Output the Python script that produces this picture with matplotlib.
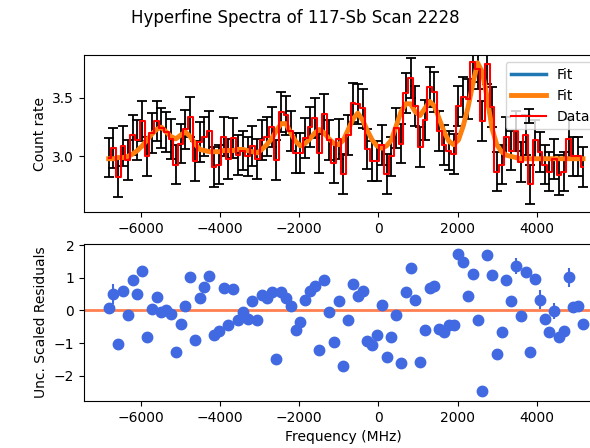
import numpy as np
import matplotlib
matplotlib.use("Agg")
import matplotlib.pyplot as plt

# scan frequencies (MHz)
freq = [-6810, -6689, -6568, -6447, -6326, -6205, -6084, -5963, -5842, -5721,
        -5600, -5479, -5358, -5237, -5116, -4995, -4874, -4753, -4632, -4511,
        -4390, -4269, -4148, -4027, -3906, -3785, -3664, -3543, -3422, -3301,
        -3180, -3059, -2938, -2817, -2696, -2575, -2454, -2333, -2212, -2091,
        -1970, -1849, -1728, -1607, -1486, -1365, -1244, -1123, -1002, -881,
        -760, -639, -518, -397, -276, -155, -34, 87, 208, 329,
        450, 571, 692, 813, 934, 1055, 1176, 1297, 1418, 1539,
        1660, 1781, 1902, 2023, 2144, 2265, 2386, 2507, 2628, 2749,
        2870, 2991, 3112, 3233, 3354, 3475, 3596, 3717, 3838, 3959,
        4080, 4201, 4322, 4443, 4564, 4685, 4806, 4927, 5048, 5169]

# measured count rate
counts = [2.99, 3.07, 2.82, 3.09, 2.97, 3.18, 3.14, 3.30, 3.00, 3.20,
          3.30, 3.24, 3.21, 3.15, 2.93, 3.11, 3.23, 3.34, 2.96, 3.12,
          3.17, 3.22, 2.91, 2.93, 3.17, 2.98, 3.16, 3.01, 3.05, 3.00,
          3.09, 2.98, 3.14, 3.17, 3.25, 2.97, 3.38, 3.35, 3.22, 3.03,
          3.03, 3.16, 3.25, 3.33, 3.03, 3.36, 3.14, 2.94, 3.15, 2.85,
          3.18, 3.46, 3.45, 3.41, 3.06, 2.96, 2.96, 3.10, 2.85, 3.00,
          3.24, 3.11, 3.54, 3.67, 3.43, 3.08, 3.31, 3.59, 3.55, 3.22,
          3.10, 3.05, 3.02, 3.43, 3.51, 3.49, 3.81, 3.75, 3.30, 3.79,
          3.42, 2.87, 2.93, 3.17, 3.05, 3.22, 2.95, 3.18, 2.76, 3.14,
          3.04, 2.93, 2.87, 2.98, 2.84, 2.87, 3.15, 3.00, 3.00, 2.91]

counts_err = [0.17] * 100

# fitted curve
fit = [2.98, 2.98, 2.99, 2.99, 3.00, 3.02, 3.05, 3.09, 3.14, 3.19,
       3.23, 3.25, 3.21, 3.17, 3.15, 3.18, 3.21, 3.17, 3.11, 3.06,
       3.05, 3.04, 3.04, 3.04, 3.05, 3.05, 3.05, 3.06, 3.06, 3.05,
       3.04, 3.03, 3.06, 3.10, 3.15, 3.22, 3.28, 3.28, 3.20, 3.13,
       3.09, 3.11, 3.15, 3.20, 3.23, 3.20, 3.15, 3.11, 3.10, 3.14,
       3.23, 3.32, 3.37, 3.31, 3.22, 3.14, 3.09, 3.07, 3.09, 3.14,
       3.26, 3.38, 3.45, 3.45, 3.38, 3.35, 3.41, 3.47, 3.43, 3.32,
       3.21, 3.13, 3.10, 3.14, 3.26, 3.42, 3.62, 3.80, 3.72, 3.50,
       3.24, 3.10, 3.04, 3.01, 3.00, 2.99, 2.98, 2.98, 2.98, 2.98,
       2.98, 2.98, 2.98, 2.98, 2.98, 2.98, 2.98, 2.98, 2.98, 2.98]

# uncertainty scaled residuals
resid = [0.07, 0.50, -1.03, 0.58, -0.15, 0.94, 0.50, 1.21, -0.83, 0.05,
         0.42, -0.05, 0.00, -0.11, -1.29, -0.42, 0.14, 1.01, -0.91, 0.38,
         0.70, 1.04, -0.74, -0.64, 0.69, -0.44, 0.66, -0.31, -0.05, -0.28,
         0.28, -0.31, 0.48, 0.38, 0.56, -1.49, 0.56, 0.38, 0.14, -0.59,
         -0.36, 0.31, 0.60, 0.76, -1.20, 0.93, -0.06, -0.98, 0.28, -1.71,
         -0.31, 0.82, 0.45, 0.60, -0.93, -1.05, -0.74, 0.15, -1.44, -0.81,
         -0.13, -1.60, 0.55, 1.30, 0.31, -1.58, -0.61, 0.68, 0.73, -0.57,
         -0.66, -0.46, -0.46, 1.72, 1.47, 0.43, 1.12, -0.31, -2.46, 1.68,
         1.08, -1.33, -0.67, 0.94, 0.28, 1.35, -0.17, 1.18, -1.28, 0.95,
         0.33, -0.28, -0.67, -0.01, -0.83, -0.64, 1.01, 0.09, 0.14, -0.42]

resid_err = [0.12, 0.30, 0.12, 0.12, 0.12, 0.12, 0.12, 0.12, 0.12, 0.12,
             0.12, 0.12, 0.12, 0.12, 0.12, 0.12, 0.12, 0.12, 0.12, 0.12,
             0.12, 0.12, 0.12, 0.12, 0.12, 0.12, 0.12, 0.12, 0.12, 0.12,
             0.12, 0.12, 0.12, 0.12, 0.12, 0.12, 0.12, 0.12, 0.12, 0.12,
             0.12, 0.12, 0.12, 0.12, 0.12, 0.12, 0.12, 0.12, 0.12, 0.12,
             0.12, 0.12, 0.12, 0.12, 0.12, 0.12, 0.12, 0.12, 0.12, 0.12,
             0.12, 0.12, 0.12, 0.12, 0.12, 0.12, 0.12, 0.12, 0.12, 0.12,
             0.12, 0.12, 0.12, 0.12, 0.12, 0.12, 0.12, 0.12, 0.12, 0.12,
             0.12, 0.12, 0.12, 0.12, 0.12, 0.25, 0.12, 0.12, 0.12, 0.12,
             0.28, 0.12, 0.12, 0.25, 0.12, 0.12, 0.30, 0.12, 0.12, 0.12]

fig = plt.figure(figsize=(5.9, 4.48), dpi=100)
fig.suptitle('Hyperfine Spectra of 117-Sb Scan 2228')

# axes run past the right edge of the figure, as in the original
ax1 = fig.add_axes([0.1424, 0.5261, 0.8797, 0.3504])
ax2 = fig.add_axes([0.1424, 0.1049, 0.8797, 0.3504])

ax1.errorbar(freq, counts, yerr=counts_err, color='red', ecolor='black',
             drawstyle='steps-mid', capsize=3.5, elinewidth=1.3, capthick=1.3,
             lw=1.5, label='Data')
ax1.plot(freq, fit, color='tab:blue', lw=2.5, label='Fit')
ax1.plot(freq, fit, color='tab:orange', lw=3.5, label='Fit')
ax1.set_ylabel('Count rate')
ax1.set_xlim(-7432, 5674)
ax1.set_ylim(2.522, 3.864)
ax1.set_yticks([3.0, 3.5])
ax1.legend(loc='upper right', handlelength=2.5)

ax2.errorbar(freq, resid, yerr=resid_err, fmt='o', color='royalblue',
             markersize=7.5)
ax2.axhline(0, color='coral', lw=2, zorder=0)
ax2.set_xlim(-7432, 5674)
ax2.set_ylim(-2.775, 2.03)
ax2.set_ylabel('Unc. Scaled Residuals')
ax2.set_xlabel('Frequency (MHz)')

plt.savefig('out.png', dpi=100)
